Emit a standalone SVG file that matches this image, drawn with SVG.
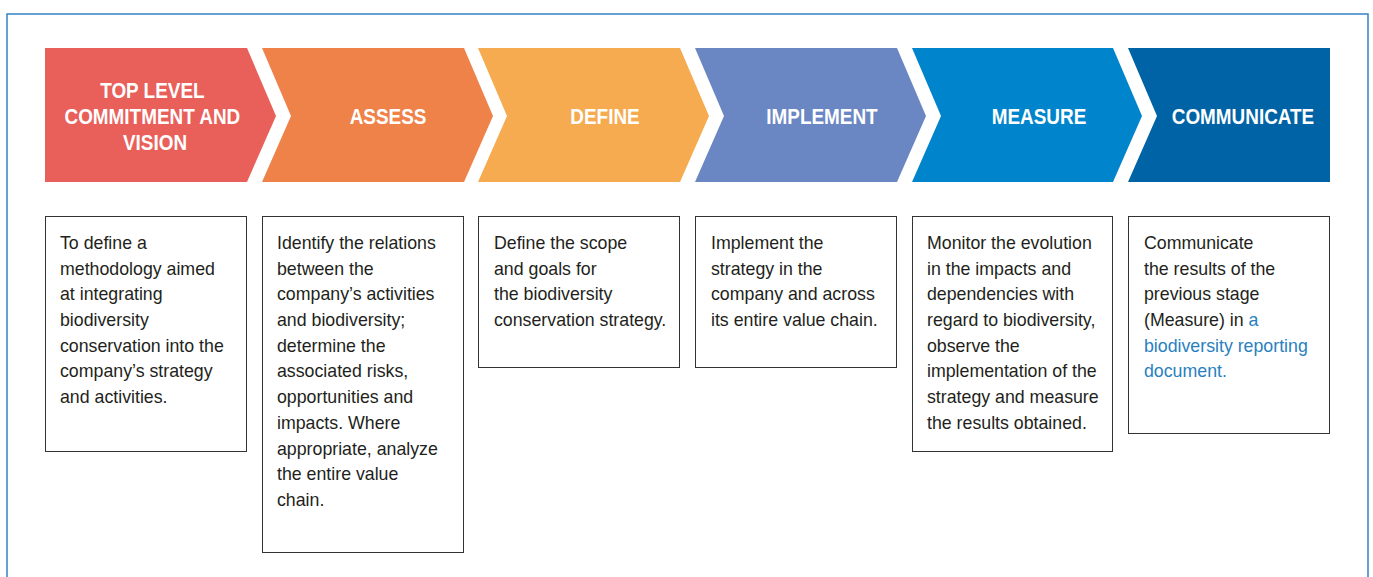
<svg xmlns="http://www.w3.org/2000/svg" width="1373" height="577" viewBox="0 0 1373 577">
  <style>
    .head { font-family: "Liberation Sans", Arial, sans-serif; font-weight: bold; font-size: 22px; fill: #ffffff; text-anchor: middle; }
    .body { font-family: "Liberation Sans", Arial, sans-serif; font-size: 19px; fill: #231f20; }
    .link { fill: #2a7fc0; }
    .box { fill: #ffffff; stroke: #333333; stroke-width: 1; }
    .frame { fill: none; stroke: #3382c4; stroke-width: 1.5; }
  </style>

  <rect width="1373" height="577" fill="#ffffff"/>
  <rect class="frame" x="7" y="14" width="1361" height="580"/>

  <!-- Step chevrons (labels narrowed horizontally to a condensed look) -->
  <g id="step-commitment">
    <polygon points="45,48 247,48 276,116 247,182 45,182" fill="#e9605a"/>
    <text class="head" transform="translate(155 0) scale(0.86 1)">
      <tspan x="0" y="98">TOP LEVEL</tspan>
      <tspan x="0" y="124">COMMITMENT AND</tspan>
      <tspan x="0" y="150">VISION</tspan>
    </text>
  </g>
  <g id="step-assess">
    <polygon points="262,48 464,48 493,116 464,182 262,182 291,116" fill="#ef8249"/>
    <text class="head" transform="translate(388 124) scale(0.86 1)" x="0" y="0">ASSESS</text>
  </g>
  <g id="step-define">
    <polygon points="478,48 680,48 709,116 680,182 478,182 507,116" fill="#f6ab51"/>
    <text class="head" transform="translate(605 124) scale(0.86 1)" x="0" y="0">DEFINE</text>
  </g>
  <g id="step-implement">
    <polygon points="695,48 897,48 926,116 897,182 695,182 724,116" fill="#6b87c3"/>
    <text class="head" transform="translate(822 124) scale(0.86 1)" x="0" y="0">IMPLEMENT</text>
  </g>
  <g id="step-measure">
    <polygon points="912,48 1113,48 1142,116 1113,182 912,182 941,116" fill="#0085cc"/>
    <text class="head" transform="translate(1039 124) scale(0.86 1)" x="0" y="0">MEASURE</text>
  </g>
  <g id="step-communicate">
    <polygon points="1128,48 1330,48 1330,182 1128,182 1157,116" fill="#0063a6"/>
    <text class="head" transform="translate(1243 124) scale(0.86 1)" x="0" y="0">COMMUNICATE</text>
  </g>

  <!-- Description boxes -->
  <g id="desc-commitment">
    <rect class="box" x="45.5" y="216.5" width="201" height="235"/>
    <text class="body" transform="translate(60 249) scale(0.935 1)">
      <tspan x="0" dy="0">To define a</tspan>
      <tspan x="0" dy="25.7">methodology aimed</tspan>
      <tspan x="0" dy="25.7">at integrating</tspan>
      <tspan x="0" dy="25.7">biodiversity</tspan>
      <tspan x="0" dy="25.7">conservation into the</tspan>
      <tspan x="0" dy="25.7">company’s strategy</tspan>
      <tspan x="0" dy="25.7">and activities.</tspan>
    </text>
  </g>
  <g id="desc-assess">
    <rect class="box" x="262.5" y="216.5" width="201" height="336"/>
    <text class="body" transform="translate(277 249) scale(0.935 1)">
      <tspan x="0" dy="0">Identify the relations</tspan>
      <tspan x="0" dy="25.7">between the</tspan>
      <tspan x="0" dy="25.7">company’s activities</tspan>
      <tspan x="0" dy="25.7">and biodiversity;</tspan>
      <tspan x="0" dy="25.7">determine the</tspan>
      <tspan x="0" dy="25.7">associated risks,</tspan>
      <tspan x="0" dy="25.7">opportunities and</tspan>
      <tspan x="0" dy="25.7">impacts. Where</tspan>
      <tspan x="0" dy="25.7">appropriate, analyze</tspan>
      <tspan x="0" dy="25.7">the entire value</tspan>
      <tspan x="0" dy="25.7">chain.</tspan>
    </text>
  </g>
  <g id="desc-define">
    <rect class="box" x="478.5" y="216.5" width="201" height="151"/>
    <text class="body" transform="translate(494 249) scale(0.935 1)">
      <tspan x="0" dy="0">Define the scope</tspan>
      <tspan x="0" dy="25.7">and goals for</tspan>
      <tspan x="0" dy="25.7">the biodiversity</tspan>
      <tspan x="0" dy="25.7">conservation strategy.</tspan>
    </text>
  </g>
  <g id="desc-implement">
    <rect class="box" x="695.5" y="216.5" width="201" height="151"/>
    <text class="body" transform="translate(711 249) scale(0.935 1)">
      <tspan x="0" dy="0">Implement the</tspan>
      <tspan x="0" dy="25.7">strategy in the</tspan>
      <tspan x="0" dy="25.7">company and across</tspan>
      <tspan x="0" dy="25.7">its entire value chain.</tspan>
    </text>
  </g>
  <g id="desc-measure">
    <rect class="box" x="912.5" y="216.5" width="200" height="235"/>
    <text class="body" transform="translate(927 249) scale(0.935 1)">
      <tspan x="0" dy="0">Monitor the evolution</tspan>
      <tspan x="0" dy="25.7">in the impacts and</tspan>
      <tspan x="0" dy="25.7">dependencies with</tspan>
      <tspan x="0" dy="25.7">regard to biodiversity,</tspan>
      <tspan x="0" dy="25.7">observe the</tspan>
      <tspan x="0" dy="25.7">implementation of the</tspan>
      <tspan x="0" dy="25.7">strategy and measure</tspan>
      <tspan x="0" dy="25.7">the results obtained.</tspan>
    </text>
  </g>
  <g id="desc-communicate">
    <rect class="box" x="1128.5" y="216.5" width="201" height="217"/>
    <text class="body" transform="translate(1144 249) scale(0.935 1)">
      <tspan x="0" dy="0">Communicate</tspan>
      <tspan x="0" dy="25.7">the results of the</tspan>
      <tspan x="0" dy="25.7">previous stage</tspan>
      <tspan x="0" dy="25.7">(Measure) in <tspan class="link">a</tspan></tspan>
      <tspan class="link" x="0" dy="25.7">biodiversity reporting</tspan>
      <tspan class="link" x="0" dy="25.7">document.</tspan>
    </text>
  </g>
</svg>
